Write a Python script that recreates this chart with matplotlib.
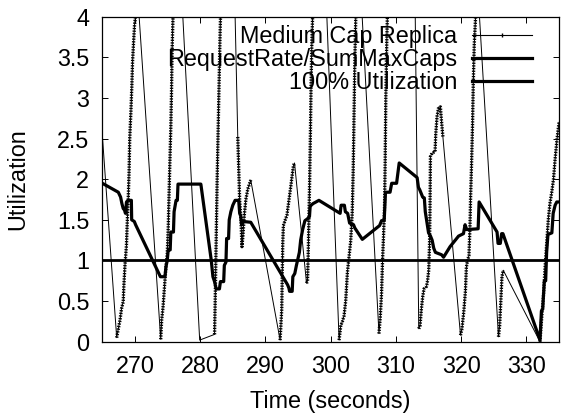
import numpy as np
import matplotlib
matplotlib.use('Agg')
import matplotlib.pyplot as plt
from matplotlib.lines import Line2D

plt.rcParams['font.family'] = ['Liberation Sans', 'DejaVu Sans']

# Medium Cap Replica utilization (dense sample bursts, then one-step drops)
med_t = [263.8, 267.2, 267.45, 267.7, 267.95, 268.2, 268.3, 268.47, 268.7, 268.82, 268.97,
         269.1, 269.2, 269.38, 269.53, 269.63, 269.79, 269.94, 270.15, 270.35,
         273.95, 274.1, 274.3, 274.55, 274.75, 274.95, 275.1, 275.22, 275.35, 275.5,
         275.6, 275.7, 275.85, 276.3,
         279.92, 282.2, 282.3, 282.4, 282.5, 282.6, 282.75, 282.9, 283.05, 283.15, 284.2,
         285.76, 286.05, 286.25, 286.4, 286.55, 286.75, 287.0, 287.3, 287.75,
         292.25, 292.5, 292.65, 292.75, 293.0, 293.3, 293.5, 293.7, 293.9, 294.1, 294.3, 294.46,
         296.3, 296.45, 296.55, 296.65, 296.78, 296.9, 297.0, 297.12, 297.25, 298.0,
         301.29, 301.55, 301.8, 302.05, 302.3, 302.56, 302.82, 303.07, 303.3, 303.45,
         303.58, 303.7, 303.85, 304.1,
         307.4, 307.6, 307.8, 307.95, 308.1, 308.25, 308.35, 308.45, 308.6, 308.7, 309.0, 312.75,
         313.5, 313.7, 313.9, 314.1, 314.3, 314.68, 314.85, 315.03, 315.15, 315.22, 315.29,
         315.53, 316.0, 316.1, 316.3, 316.56, 316.82, 316.95, 317.2,
         319.9, 320.12, 320.4, 320.65, 320.8, 320.98, 321.19, 321.34, 321.44, 321.6, 321.75,
         321.85, 322.0, 322.2, 322.4,
         325.72, 325.9, 326.05, 326.25, 326.45,
         332.08, 332.35, 332.6, 332.85, 333.1, 333.35, 333.6, 333.9, 334.15, 334.4, 334.7, 335.0]
med_y = [3.9, 0.05, 0.16, 0.26, 0.41, 0.49, 0.69, 0.94, 1.19, 1.47, 1.76,
         2.09, 2.5, 2.83, 3.16, 3.44, 3.69, 3.9, 4.05, 4.35,
         0.03, 0.27, 0.42, 0.7, 0.92, 1.08, 1.4, 1.8, 2.2, 2.65,
         3.05, 3.6, 4.05, 5.6,
         0.02, 0.09, 0.5, 1.0, 1.5, 2.0, 2.6, 3.2, 3.8, 4.1, 8.2,
         2.52, 1.74, 1.5, 1.17, 1.3, 1.55, 1.75, 1.88, 1.99,
         0.02, 0.4, 1.2, 1.43, 1.49, 1.56, 1.68, 1.8, 1.92, 2.05, 2.17, 2.2,
         0.72, 0.75, 1.05, 1.45, 2.0, 2.6, 3.2, 3.7, 4.05, 7.0,
         0.02, 0.2, 0.25, 0.32, 0.5, 0.85, 1.05, 1.24, 1.58, 2.1,
         2.8, 3.45, 4.0, 5.1,
         0.1, 0.3, 0.6, 1.0, 1.3, 1.65, 2.2, 3.0, 3.7, 4.05, 6.0, 5.5,
         0.16, 0.2, 0.4, 0.55, 0.65, 0.68, 0.75, 0.88, 1.2, 1.6, 2.28,
         2.32, 2.34, 2.55, 2.77, 2.89, 2.89, 2.75, 2.52,
         0.08, 0.16, 0.37, 0.62, 0.92, 1.0, 1.06, 1.39, 1.76, 2.21, 2.7,
         3.16, 3.65, 3.98, 4.55,
         0.06, 0.2, 0.45, 0.8, 0.88,
         0.0, 0.3, 0.55, 0.9, 1.2, 1.5, 1.7, 1.85, 2.0, 2.25, 2.5, 2.7]

# RequestRate / SumMaxCaps
req_t = [265.0, 267.45, 267.8, 268.0, 268.2, 268.4, 268.55, 268.7, 268.95, 269.45, 269.5,
         269.9, 270.1, 273.9, 274.6, 274.75, 274.95, 275.1, 275.4, 275.5, 275.9, 276.0,
         276.3, 276.5, 276.6, 280.1, 281.7, 281.95, 282.2, 282.45, 282.95, 283.1, 283.6,
         283.7, 283.95, 284.05, 284.35, 284.45, 284.7, 285.0, 285.35, 285.9, 286.05, 286.2,
         286.35, 286.6, 287.75, 293.4, 293.6, 293.7, 294.1, 294.2, 294.5, 294.75, 295.2,
         295.4, 295.7, 296.05, 296.4, 296.75, 296.85, 297.0, 297.3, 298.2, 301.45, 301.6,
         302.1, 302.25, 302.6, 302.9, 303.5, 303.7, 304.85, 307.5, 307.8, 308.2, 308.4,
         309.1, 309.35, 310.1, 310.5, 313.25, 313.45, 313.65, 314.1, 314.35, 314.5, 314.77,
         315.0, 315.3, 315.55, 315.8, 316.05, 317.0, 317.3, 318.3, 319.6, 320.35, 320.6,
         320.85, 322.6, 322.75, 325.5, 325.65, 326.0, 326.2, 326.4, 332.08, 332.3, 332.5,
         332.6, 332.75, 332.95, 333.1, 333.3, 333.9, 334.1, 334.4, 334.65, 335.0]
req_y = [1.95, 1.84, 1.78, 1.7, 1.64, 1.62, 1.58, 1.72, 1.74, 1.74, 1.5,
         1.48, 1.44, 0.8, 0.8, 0.92, 1.0, 1.13, 1.13, 1.35, 1.35, 1.6,
         1.74, 1.74, 1.94, 1.94, 1.0, 0.8, 0.74, 0.65, 0.65, 0.74, 0.74,
         0.94, 0.98, 1.27, 1.27, 1.5, 1.6, 1.68, 1.74, 1.74, 1.58, 1.55,
         1.44, 1.48, 1.47, 0.7, 0.66, 0.62, 0.62, 0.8, 0.84, 0.94, 1.1,
         1.25, 1.38, 1.49, 1.51, 1.54, 1.66, 1.68, 1.7, 1.74, 1.58, 1.68,
         1.68, 1.6, 1.58, 1.46, 1.44, 1.4, 1.26, 1.43, 1.49, 1.49, 1.84,
         1.84, 1.95, 1.95, 2.2, 2.02, 1.9, 1.87, 1.78, 1.77, 1.6, 1.46,
         1.34, 1.3, 1.25, 1.15, 1.1, 1.07, 1.04, 1.17, 1.3, 1.33, 1.44,
         1.38, 1.39, 1.72, 1.35, 1.21, 1.21, 1.33, 1.33, 0.02, 0.38, 0.4,
         0.55, 0.75, 0.75, 1.1, 1.32, 1.34, 1.58, 1.68, 1.72, 1.72]

full_util = 1.0
x_ticks = [270, 280, 290, 300, 310, 320, 330]
y_ticks = [0, 0.5, 1, 1.5, 2, 2.5, 3, 3.5, 4]
y_tick_labels = ['0', '0.5', '1', '1.5', '2', '2.5', '3', '3.5', '4']

fs = 16.8
fig = plt.figure(figsize=(5.61, 4.13), dpi=100)
ax = fig.add_axes([0.1824, 0.1726, 0.8141, 0.7869])

t = np.array(med_t)
y = np.array(med_y)
ax.plot(t, y, color='black', lw=0.7, zorder=2)

# dense sample runs drawn with a beaded texture (gnuplot linespoints look)
dt = np.diff(t)
dy = np.diff(y)
dense = (dt < 0.5) & (np.abs(dy) < 1.3)
run = []
for i, d in enumerate(dense):
    if d:
        if not run:
            run = [i]
        run.append(i + 1)
    else:
        if run:
            ax.plot(t[run], y[run], color='black', lw=2.4,
                    linestyle=(0, (0.4, 0.4)), zorder=2)
        run = []
if run:
    ax.plot(t[run], y[run], color='black', lw=2.4, linestyle=(0, (0.4, 0.4)), zorder=2)

ax.plot(req_t, req_y, color='black', lw=2.3, zorder=3)
ax.axhline(full_util, color='black', lw=2.0, zorder=3)

ax.set_xlim(265, 335)
ax.set_ylim(0, 4)
ax.set_xticks(x_ticks)
ax.set_yticks(y_ticks)
ax.set_yticklabels(y_tick_labels)
ax.tick_params(direction='in', top=True, right=True, length=4, width=0.7,
               labelsize=fs, pad=9.5)
for s in ax.spines.values():
    s.set_linewidth(0.9)

ax.set_xlabel('Time (seconds)', fontsize=fs, labelpad=9)
ax.set_ylabel('Utilization', fontsize=fs, labelpad=20)

handles = [Line2D([], [], color='black', lw=0.8, marker='|', ms=3),
           Line2D([], [], color='black', lw=2.3),
           Line2D([], [], color='black', lw=2.3)]
labels = ['Medium Cap Replica', 'RequestRate/SumMaxCaps', '100% Utilization']
leg = ax.legend(handles, labels, loc='upper right', bbox_to_anchor=(0.94, 0.975),
                frameon=False, markerfirst=False, fontsize=fs, handlelength=2.55,
                handletextpad=0.65, labelspacing=0.0, borderpad=0, borderaxespad=0,
                numpoints=1)

fig.savefig('out.png', dpi=100)
